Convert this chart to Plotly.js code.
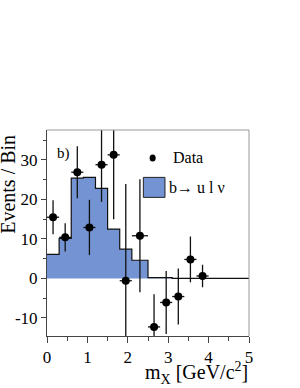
<!DOCTYPE html>
<html>
<head>
<meta charset="utf-8">
<script src="https://cdn.plot.ly/plotly-3.0.1.min.js"></script>
<style>html,body{margin:0;padding:0;background:#fff;}#chart{width:300px;height:388px;}</style>
</head>
<body>
<div id="chart"></div>
<script>
// Histogram (b -> u l nu) bin edges and contents
var binEdges = [0, 0.3, 0.6, 0.9, 1.2, 1.5, 1.8, 2.1, 2.5, 3.1, 5.0];
var binValues = [6.1, 10.1, 25.4, 25.6, 22.8, 12.5, 7.4, 4.6, 0.2, 0];

// Data points
var dataX = [0.15, 0.45, 0.75, 1.05, 1.35, 1.65, 1.95, 2.3, 2.65, 2.95, 3.25, 3.55, 3.85];
var dataY = [15.5, 10.4, 26.9, 12.9, 28.8, 31.3, -0.6, 10.8, -12.3, -6.1, -4.6, 4.8, 0.6];
var dataErrY = [4.3, 3.6, 6.6, 7.0, 9.4, 16.3, 24.5, 14.3, 8.3, 8.0, 7.1, 5.8, 2.85];
var dataErrX = [0.15, 0.15, 0.15, 0.15, 0.15, 0.15, 0.15, 0.2, 0.15, 0.15, 0.15, 0.15, 0.15];

var yTickVals = [-10, 0, 10, 20, 30];
var yTickText = ["-10", "0", "10", "20", "30"];
var xTickVals = [0, 1, 2, 3, 4, 5];
var xTickText = ["0", "1", "2", "3", "4", "5"];

var histX = binEdges.slice();
var histY = binValues.concat([binValues[binValues.length - 1]]);

var serif = "Liberation Serif, Times New Roman, serif";
var fillBlue = "#7493d3";

var traces = [
  {
    x: histX, y: histY, type: "scatter", mode: "lines",
    line: {shape: "hv", color: "#111", width: 1.2},
    fill: "tozeroy", fillcolor: fillBlue,
    hoverinfo: "skip", showlegend: false
  },
  {
    x: dataX, y: dataY, type: "scatter", mode: "markers",
    marker: {color: "#000", size: 8},
    error_y: {type: "data", array: dataErrY, visible: true, color: "#111", thickness: 1.3, width: 0},
    error_x: {type: "data", array: dataErrX, visible: true, color: "#111", thickness: 1.3, width: 0},
    showlegend: false, cliponaxis: true
  }
];

var layout = {
  width: 300, height: 388,
  margin: {l: 47, r: 51, t: 130, b: 52},
  paper_bgcolor: "#fff", plot_bgcolor: "#fff",
  showlegend: false,
  font: {family: serif, color: "#000", size: 16},
  xaxis: {
    range: [0, 5], tickmode: "array", tickvals: xTickVals, ticktext: xTickText,
    ticks: "outside", ticklen: 6, tickwidth: 1, tickcolor: "#444",
    minor: {dtick: 0.5, ticks: "outside", ticklen: 4, tickcolor: "#444"},
    showline: true, linecolor: "#444", linewidth: 1,
    showgrid: false, zeroline: false,
    tickfont: {family: serif, size: 17, color: "#000"},
    title: {text: ""}
  },
  yaxis: {
    range: [-14.6, 37.6], tickmode: "array", tickvals: yTickVals, ticktext: yTickText,
    ticks: "outside", ticklen: 5, tickwidth: 1, tickcolor: "#444",
    minor: {tickvals: [-5, 5, 15, 25, 35], ticks: "outside", ticklen: 3, tickcolor: "#444"},
    showline: true, linecolor: "#444", linewidth: 1,
    showgrid: false, zeroline: false,
    tickfont: {family: serif, size: 17, color: "#000"},
    title: {text: ""}
  },
  shapes: [
    {type: "line", xref: "paper", yref: "paper", x0: 0, x1: 1, y0: 1, y1: 1, line: {color: "#999", width: 1}},
    {type: "line", xref: "paper", yref: "paper", x0: 1, x1: 1, y0: 0, y1: 1, line: {color: "#999", width: 1}},
    {type: "rect", xref: "paper", yref: "paper", x0: 0.477, x1: 0.584, y0: 0.673, y1: 0.770,
     fillcolor: fillBlue, line: {color: "#222", width: 1}},
    {type: "circle", xref: "paper", yref: "paper", x0: 0.508, x1: 0.538, y0: 0.847, y1: 0.881,
     fillcolor: "#000", line: {color: "#000", width: 0}}
  ],
  annotations: [
    {text: "b)", xref: "paper", yref: "paper", x: 0.04, y: 0.885, xanchor: "left", yanchor: "middle",
     showarrow: false, font: {family: serif, size: 15, color: "#000"}},
    {text: "Data", xref: "paper", yref: "paper", x: 0.612, y: 0.866, xanchor: "left", yanchor: "middle",
     showarrow: false, font: {family: serif, size: 16, color: "#000"}},
    {text: "b\u2192 u l \u03bd", xref: "paper", yref: "paper", x: 0.593, y: 0.723, xanchor: "left", yanchor: "middle",
     showarrow: false, font: {family: serif, size: 16, color: "#000"}},
    {text: "Events / Bin", xref: "paper", yref: "paper", x: -0.197, y: 0.735, xanchor: "center", yanchor: "middle",
     textangle: -90, showarrow: false, font: {family: serif, size: 20, color: "#000"}},
    {text: "m<sub>X</sub> [GeV/c<sup>2</sup>]", xref: "paper", yref: "paper", x: 1.005, y: -0.178, xanchor: "right", yanchor: "middle",
     showarrow: false, font: {family: serif, size: 20, color: "#000"}}
  ]
};

Plotly.newPlot("chart", traces, layout, {displayModeBar: false, staticPlot: true});
</script>
</body>
</html>
